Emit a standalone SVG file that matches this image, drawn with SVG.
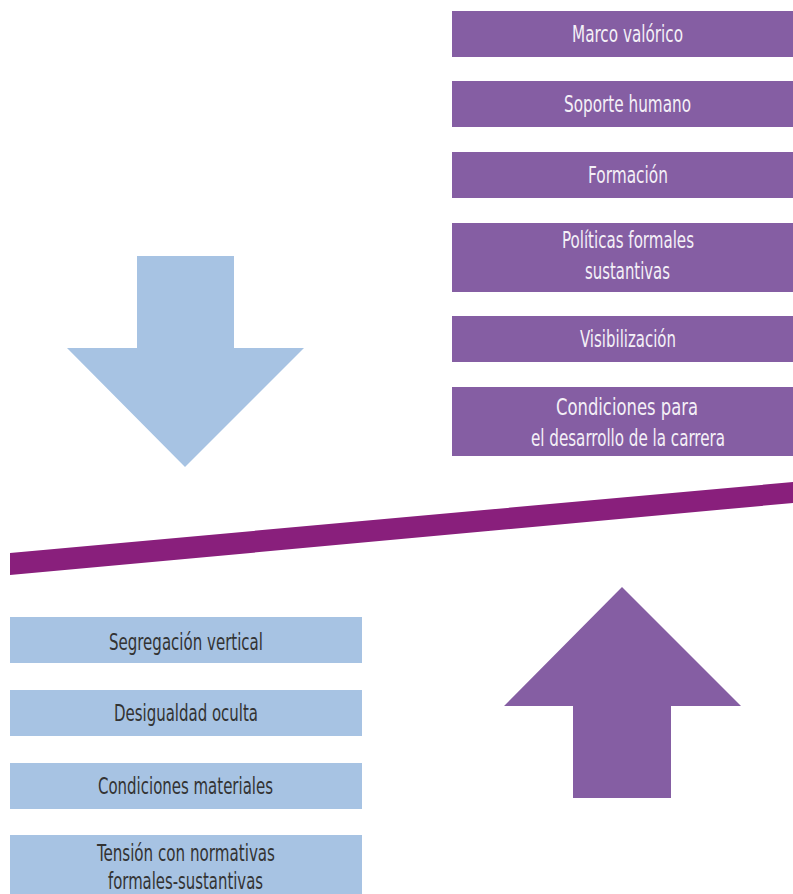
<svg xmlns="http://www.w3.org/2000/svg" width="793" height="894" viewBox="0 0 793 894">
<style>
.pb{fill:#855EA3}
.bb{fill:#A7C3E3}
.t{font-family:"DejaVu Sans Condensed","Liberation Sans",sans-serif;font-size:23px;text-anchor:middle}
.tw{fill:#F4F0F7}
.td{fill:#333333}
</style>
<rect width="793" height="894" fill="#FFFFFF"/>
<g id="shapes">
<polygon id="down-arrow" class="bb" points="137,256 234,256 234,348 304,348 185,467 67,348 137,348"/>
<polygon id="up-arrow" class="pb" points="622,587 741,706 671,706 671,798 573,798 573,706 504,706"/>
<polygon id="bar" fill="#891F7C" points="10,553 793,482 793,503 10,575"/>
</g>
<g id="connectors"></g>
<g id="node-marco">
<rect class="pb" x="452" y="11" width="341" height="46"/>
<text class="t tw" x="627.5" y="42" textLength="111" lengthAdjust="spacingAndGlyphs">Marco valórico</text>
</g>
<g id="node-soporte">
<rect class="pb" x="452" y="81" width="341" height="46"/>
<text class="t tw" x="627.5" y="112" textLength="127" lengthAdjust="spacingAndGlyphs">Soporte humano</text>
</g>
<g id="node-formacion">
<rect class="pb" x="452" y="152" width="341" height="46"/>
<text class="t tw" x="628" y="183" textLength="80" lengthAdjust="spacingAndGlyphs">Formación</text>
</g>
<g id="node-politicas">
<rect class="pb" x="452" y="223" width="341" height="69"/>
<text class="t tw" x="628" y="248" textLength="132" lengthAdjust="spacingAndGlyphs">Políticas formales</text>
<text class="t tw" x="627.5" y="279" textLength="85" lengthAdjust="spacingAndGlyphs">sustantivas</text>
</g>
<g id="node-visibilizacion">
<rect class="pb" x="452" y="316" width="341" height="46"/>
<text class="t tw" x="628" y="347" textLength="96" lengthAdjust="spacingAndGlyphs">Visibilización</text>
</g>
<g id="node-condiciones-carrera">
<rect class="pb" x="452" y="387" width="341" height="69"/>
<text class="t tw" x="627" y="415" textLength="142" lengthAdjust="spacingAndGlyphs">Condiciones para</text>
<text class="t tw" x="628" y="446" textLength="194" lengthAdjust="spacingAndGlyphs">el desarrollo de la carrera</text>
</g>
<g id="node-segregacion">
<rect class="bb" x="10" y="617" width="352" height="46"/>
<text class="t td" x="186" y="650" textLength="154" lengthAdjust="spacingAndGlyphs">Segregación vertical</text>
</g>
<g id="node-desigualdad">
<rect class="bb" x="10" y="690" width="352" height="46"/>
<text class="t td" x="186" y="721" textLength="144" lengthAdjust="spacingAndGlyphs">Desigualdad oculta</text>
</g>
<g id="node-condiciones-materiales">
<rect class="bb" x="10" y="763" width="352" height="46"/>
<text class="t td" x="185.5" y="794" textLength="175" lengthAdjust="spacingAndGlyphs">Condiciones materiales</text>
</g>
<g id="node-tension">
<rect class="bb" x="10" y="835" width="352" height="59"/>
<text class="t td" x="186" y="861" textLength="178" lengthAdjust="spacingAndGlyphs">Tensión con normativas</text>
<text class="t td" x="185.5" y="889" textLength="155" lengthAdjust="spacingAndGlyphs">formales-sustantivas</text>
</g>
</svg>
